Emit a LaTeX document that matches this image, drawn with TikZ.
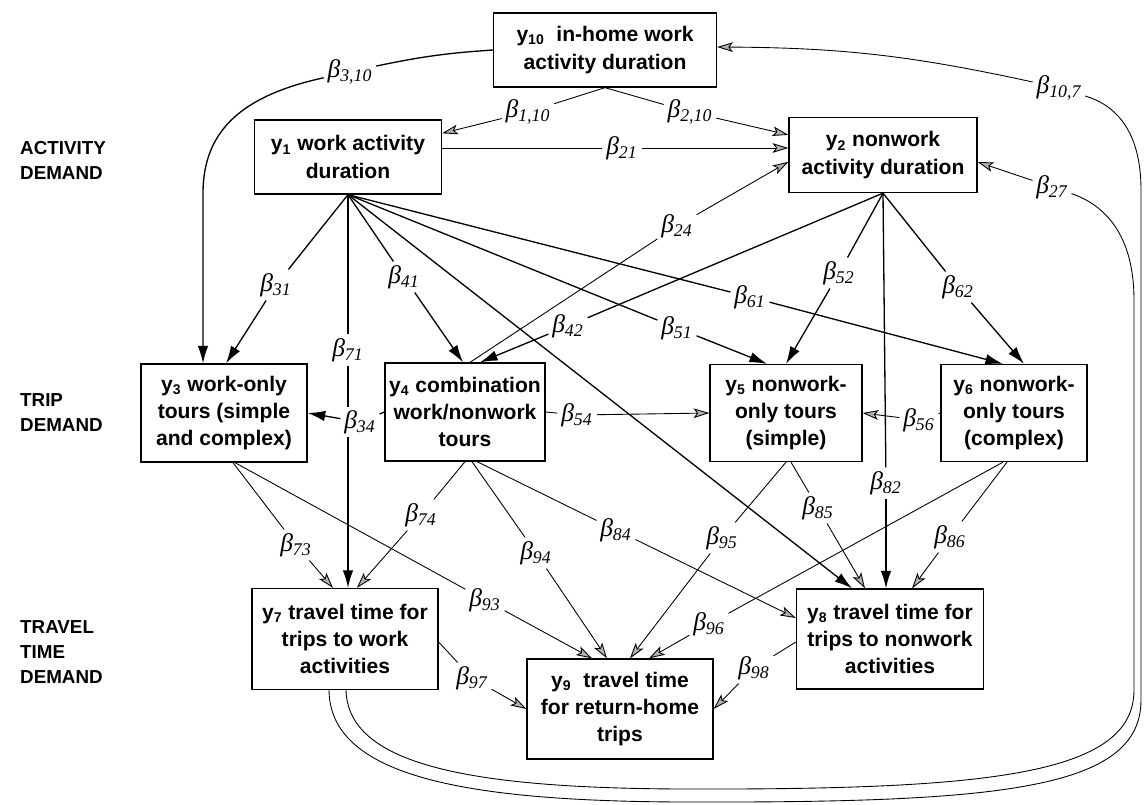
\documentclass[tikz,border=0pt]{standalone}
\usepackage{fontspec}
\setmainfont{Liberation Sans}
\newfontfamily\coeffont{Liberation Serif}
\usetikzlibrary{arrows.meta,calc}
\newcommand{\cf}[1]{β\textsubscript{#1}}
\tikzset{
  var/.style={draw, line width=0.75pt, align=center, inner sep=0pt,
    font=\bfseries\fontsize{12}{15.5}\selectfont},
  lvl/.style={anchor=west, align=left, font=\bfseries\fontsize{10.7}{14.2}\selectfont},
  coef/.style={inner sep=2pt, font=\coeffont\itshape\fontsize{14.5}{14.5}\selectfont},
  thk/.style={line width=0.75pt},
  thn/.style={line width=0.5pt},
  blk/.style={thk, -{Latex[length=10pt,width=6pt]}},
  gry/.style={thn, -{Stealth[length=9pt,width=5.5pt,inset=2pt,fill=gray!60]}}
}
\begin{document}
\begin{tikzpicture}[x=0.02cm,y=-0.02cm]
  \useasboundingbox (0,0) rectangle (1144,805);
  \node[lvl] (act) at (14,160) {ACTIVITY\\DEMAND};
  \node[lvl] (trip) at (14,413) {TRIP\\DEMAND};
  \node[lvl] (trav) at (14,652) {TRAVEL\\TIME\\DEMAND};

  \node[var, minimum width=4.46cm, minimum height=1.48cm] (y10) at (605,50) {y\textsubscript{10}\ \ in-home work\\activity duration};
  \node[var, minimum width=3.74cm, minimum height=1.48cm] (y1) at (348,157) {y\textsubscript{1} work activity\\duration};
  \node[var, minimum width=3.76cm, minimum height=1.50cm] (y2) at (883,155) {y\textsubscript{2} nonwork\\activity duration};
  \node[var, minimum width=3.32cm, minimum height=1.96cm] (y3) at (224,413) {y\textsubscript{3} work-only\\tours (simple\\and complex)};
  \node[var, minimum width=3.20cm, minimum height=1.96cm] (y4) at (465,412) {y\textsubscript{4} combination\\work/nonwork\\tours};
  \node[var, minimum width=3.04cm, minimum height=1.94cm] (y5) at (786,413) {y\textsubscript{5} nonwork-\\only tours\\(simple)};
  \node[var, minimum width=2.92cm, minimum height=1.94cm] (y6) at (1014,413) {y\textsubscript{6} nonwork-\\only tours\\(complex)};
  \node[var, minimum width=3.72cm, minimum height=2.02cm] (y7) at (345,639) {y\textsubscript{7} travel time for\\trips to work\\activities};
  \node[var, minimum width=3.74cm, minimum height=2.00cm] (y8) at (890,639) {y\textsubscript{8} travel time for\\trips to nonwork\\activities};
  \node[var, minimum width=3.72cm, minimum height=2.00cm] (y9) at (620,709) {y\textsubscript{9}\ \ travel time\\for return-home\\trips};

  \node[coef] (b110) at (528,112) {\cf{1,10}};
  \node[coef] (b210) at (690,112) {\cf{2,10}};
  \node[coef] (b21) at (622,148) {\cf{21}};
  \node[coef] (b24) at (677,226) {\cf{24}};
  \node[coef] (b27) at (1052,187) {\cf{27}};
  \node[coef] (b107) at (1059,88) {\cf{10,7}};
  \node[coef] (b310) at (350,72) {\cf{3,10}};
  \node[coef] (b31) at (276,285) {\cf{31}};
  \node[coef] (b71) at (348,350) {\cf{71}};
  \node[coef] (b41) at (404,277) {\cf{41}};
  \node[coef] (b42) at (568,326) {\cf{42}};
  \node[coef] (b51) at (677,328) {\cf{51}};
  \node[coef] (b61) at (750,297) {\cf{61}};
  \node[coef] (b52) at (839,273) {\cf{52}};
  \node[coef] (b62) at (958,287) {\cf{62}};
  \node[coef] (b82) at (886,483) {\cf{82}};
  \node[coef] (b54) at (577,415) {\cf{54}};
  \node[coef] (b56) at (919,420) {\cf{56}};
  \node[coef] (b73) at (296,545) {\cf{73}};
  \node[coef] (b93) at (485,600) {\cf{93}};
  \node[coef] (b74) at (421,515) {\cf{74}};
  \node[coef] (b94) at (536,553) {\cf{94}};
  \node[coef] (b84) at (616,530) {\cf{84}};
  \node[coef] (b95) at (722,538) {\cf{95}};
  \node[coef] (b96) at (709,624) {\cf{96}};
  \node[coef] (b85) at (818,508) {\cf{85}};
  \node[coef] (b86) at (950,537) {\cf{86}};
  \node[coef] (b97) at (472,678) {\cf{97}};
  \node[coef] (b98) at (754,668) {\cf{98}};

  \draw[thn] (y10.south) -- (b110);
  \draw[gry] (b110) -- ($(y1.north east)+(0,14)$);
  \draw[thn] (y10.south) -- (b210);
  \draw[gry] (b210) -- ($(y2.north west)+(0,18)$);
  \draw[thn] (y1.east |- b21) -- (b21);
  \draw[gry] (b21) -- (b21 -| y2.west);
  \draw[thn] ($(y4.north)+(5,0)$) -- (b24);
  \draw[gry] (b24) -- ($(y2.north west)+(0,45)$);
  \draw[gry] (b27) -- ($(y2.east)+(0,7)$);
  \draw[gry] (b107) to[bend right=6] ($(y10.east)+(0,-3)$);
  \draw[thk] (y10.west) to[bend right=4] (b310);
  \draw[blk] (b310) .. controls (245,95) and ($(y3.north)+(-21,-235)$) .. ($(y3.north)+(-21,-170)$) -- ($(y3.north)+(-21,0)$);

  \draw[thk] (y1.south) -- (b31);
  \draw[blk] (b31) -- ($(y3.north)+(2,0)$);
  \draw[thk] (y1.south) -- (b71);
  \draw[blk] (b71) -- (b71 |- y7.north);
  \draw[thk] (y1.south) -- (b41);
  \draw[blk] (b41) -- ($(y4.north)+(-2,0)$);
  \draw[blk] (y1.south) -- ($(y8.north)+(-38,0)$);
  \draw[thk] (y1.south) -- (b51);
  \draw[blk] (b51) -- ($(y5.north)+(-19,0)$);
  \draw[thk] (y1.south) -- (b61);
  \draw[blk] (b61) -- ($(y6.north)+(-11,0)$);
  \draw[thk] (y2.south) -- (b42);
  \draw[blk] (b42) -- ($(y4.north)+(15,0)$);
  \draw[thk] (y2.south) -- (b52);
  \draw[blk] (b52) -- (y5.north);
  \draw[thk] (y2.south) -- (b62);
  \draw[blk] (b62) -- ($(y6.north)+(10,0)$);
  \draw[thk] (y2.south) -- (b82);
  \draw[blk] (b82) -- (b82 |- y8.north);

  \node[coef, fill=white] (b34) at (360,422) {\cf{34}};
  \draw[thk] (y4.west) -- (b34);
  \draw[blk] (b34) -- (y3.east);
  \draw[thn] (y4.east) -- (b54);
  \draw[gry] (b54) -- (y5.west);
  \draw[thn] (y6.west) -- (b56);
  \draw[gry] (b56) -- (y5.east);

  \draw[thn] ($(y3.south)+(9,0)$) -- (b73);
  \draw[gry] (b73) -- ($(y7.north)+(-12,0)$);
  \draw[thn] ($(y3.south)+(11,0)$) -- (b93);
  \draw[gry] (b93) -- ($(y9.north)+(-28,0)$);
  \draw[thn] (y4.south) -- (b74);
  \draw[gry] (b74) -- ($(y7.north)+(12,0)$);
  \draw[thn] ($(y4.south)+(7,0)$) -- (b94);
  \draw[gry] (b94) -- ($(y9.north)+(-13,0)$);
  \draw[thn] ($(y4.south)+(12,0)$) -- (b84);
  \draw[gry] (b84) -- ($(y8.west)+(0,-21)$);
  \draw[thn] (y5.south) -- (b95);
  \draw[gry] (b95) -- ($(y9.north)+(10,0)$);
  \draw[thn] ($(y5.south)+(5,0)$) -- (b85);
  \draw[gry] (b85) -- ($(y8.north)+(-25,0)$);
  \draw[thn] ($(y6.south)+(-11,0)$) -- (b96);
  \draw[gry] (b96) -- ($(y9.north)+(29,0)$);
  \draw[thn] ($(y6.south)+(-7,0)$) -- (b86);
  \draw[gry] (b86) -- ($(y8.north)+(22,0)$);
  \draw[thn] ($(y7.east)+(0,3)$) -- (b97);
  \draw[gry] (b97) -- (y9.west);
  \draw[thn] ($(y8.west)+(0,3)$) -- (b98);
  \draw[gry] (b98) -- (y9.east);

  \draw[thn] ($(y7.south)+(1,0)$) .. controls (348,765) and (470,788) .. (680,789)
    .. controls (990,790) and (1134,775) .. (1134,690) -- (1134,300)
    .. controls (1134,235) and (1105,205) .. (b27);
  \draw[thn] ($(y7.south)+(-16,0)$) .. controls (330,775) and (460,801) .. (680,802)
    .. controls (1000,803) and (1141,790) .. (1141,700) -- (1141,190)
    .. controls (1141,130) and (1115,105) .. (b107);
\end{tikzpicture}
\end{document}
